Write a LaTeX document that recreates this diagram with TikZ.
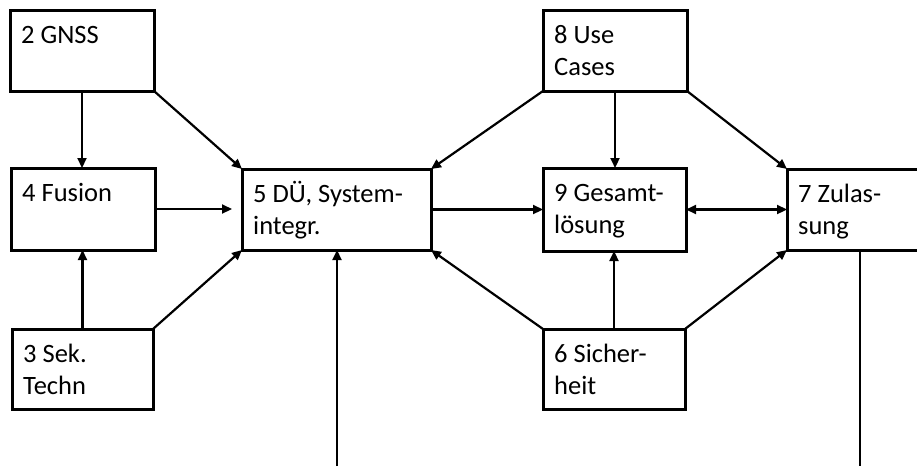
\documentclass[tikz,border=0pt]{standalone}
\usepackage{fontspec}
\setmainfont{Carlito}
\usetikzlibrary{arrows.meta}
\begin{document}
\begin{tikzpicture}[x=1pt,y=-1pt,
  box/.style={draw, line width=3pt, inner sep=0pt, outer sep=0pt, anchor=north west},
  txt/.style={anchor=north west, inner sep=0pt, align=left, font=\fontsize{26.5}{32}\selectfont},
  arr/.style={line width=2.2pt, -{Triangle[length=10pt,width=9pt]}},
  darr/.style={line width=2.2pt, {Triangle[length=10pt,width=9pt]}-{Triangle[length=10pt,width=9pt]}},
  ln/.style={line width=2.2pt}]
\useasboundingbox (0,0) rectangle (917,466);
\clip (0,0) rectangle (917,466);
% boxes
\node[box, minimum width=144pt, minimum height=81pt] (b2) at (10,10) {};
\node[box, minimum width=144pt, minimum height=82pt] (b4) at (11,168) {};
\node[box, minimum width=141pt, minimum height=80pt] (b3) at (12,329) {};
\node[box, minimum width=189pt, minimum height=81pt] (b5) at (242,169) {};
\node[box, minimum width=144pt, minimum height=81pt] (b8) at (543,10) {};
\node[box, minimum width=143pt, minimum height=83pt] (b9) at (543,168) {};
\node[box, minimum width=142pt, minimum height=80pt] (b6) at (543,329) {};
\node[box, minimum width=173pt, minimum height=81pt] (b7) at (787,169) {};
% texts
\node[txt] (t2) at ([xshift=11pt,yshift=-10.6pt]b2.north west) {\strut 2 GNSS};
\node[txt] (t4) at ([xshift=11pt,yshift=-10.6pt]b4.north west) {\strut 4 Fusion};
\node[txt] (t3) at ([xshift=11pt,yshift=-10.6pt]b3.north west) {\strut 3 Sek.\\Techn};
\node[txt] (t5) at ([xshift=11pt,yshift=-10.6pt]b5.north west) {\strut 5 DÜ, System-\\integr.};
\node[txt] (t8) at ([xshift=11pt,yshift=-10.6pt]b8.north west) {\strut 8 Use\\Cases};
\node[txt] (t9) at ([xshift=11pt,yshift=-10.6pt]b9.north west) {\strut 9 Gesamt-\\lösung};
\node[txt] (t6) at ([xshift=11pt,yshift=-10.6pt]b6.north west) {\strut 6 Sicher-\\heit};
\node[txt] (t7) at ([xshift=11pt,yshift=-10.6pt]b7.north west) {\strut 7 Zulas-\\sung};
% connectors
\draw[arr] (b2.south) -- (b2.south |- b4.north);
\draw[arr] (b3.north) -- (b3.north |- b4.south);
\draw[arr, shorten >=10pt] (b4.east) -- (b4.east -| b5.west);
\draw[arr] (b2.south east) -- (b5.north west);
\draw[arr] (b3.north east) -- (b5.south west);
\draw[arr] (b8.south west) -- (b5.north east);
\draw[arr] (b6.north west) -- (b5.south east);
\draw[arr] (b5.east) -- (b5.east -| b9.west);
\draw[arr] (b8.south) -- (b8.south |- b9.north);
\draw[arr] (b6.north) -- (b6.north |- b9.south);
\draw[darr] (b9.east) -- (b9.east -| b7.west);
\draw[arr] (b8.south east) -- (b7.north west);
\draw[arr] (b6.north east) -- (b7.south west);
\coordinate (bot5) at (337,466);
\coordinate (bot7) at (860,466);
\draw[arr] (bot5) -- (bot5 |- b5.south);
\draw[ln] (b7.south -| bot7) -- (bot7);
\end{tikzpicture}
\end{document}
